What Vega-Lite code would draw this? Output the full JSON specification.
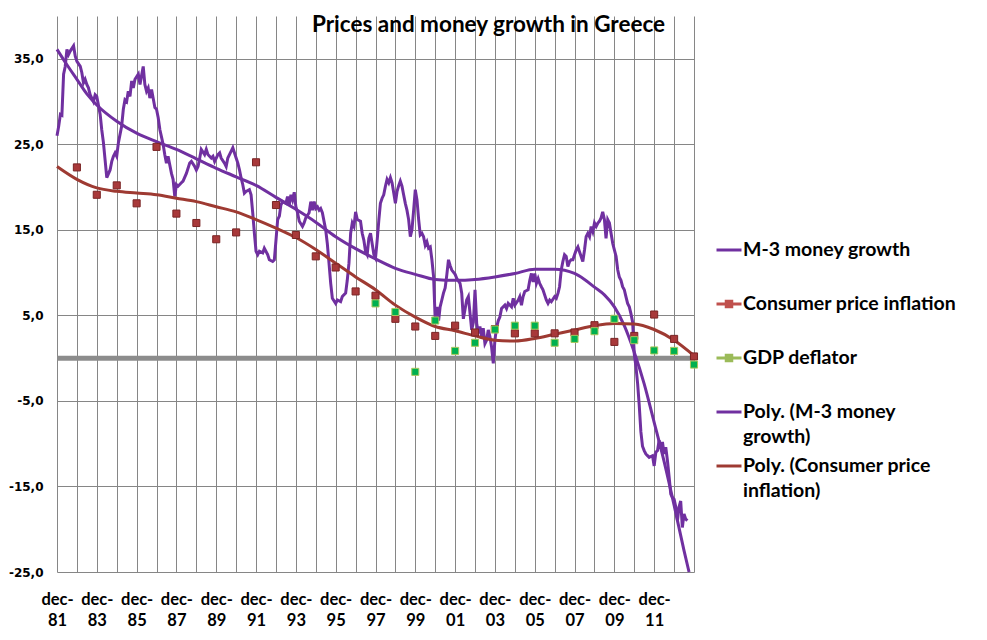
{
  "$schema": "https://vega.github.io/schema/vega-lite/v6.json",
  "width": 637,
  "height": 556,
  "autosize": "none",
  "padding": {"left": 57, "top": 16, "right": 293, "bottom": 68},
  "background": "white",
  "config": {"view": {"stroke": null}, "font": "Lato"},
  "title": {
    "text": "Prices and money growth in Greece",
    "font": "Lato", "fontSize": 22.5, "fontWeight": "bold", "color": "black",
    "anchor": "middle", "frame": "group", "baseline": "alphabetic",
    "offset": 0, "dx": 113, "dy": 38
  },
  "datasets": {
    "m3": [
      {"date":"1981-12","value":26.0},{"date":"1982-01","value":27.1},{"date":"1982-02","value":28.5},{"date":"1982-03","value":28.4},
      {"date":"1982-04","value":33.2},{"date":"1982-05","value":34.1},{"date":"1982-06","value":36.1},{"date":"1982-07","value":35.5},
      {"date":"1982-08","value":35.9},{"date":"1982-10","value":36.5},{"date":"1982-11","value":35.3},{"date":"1982-12","value":34.7},
      {"date":"1983-02","value":34.1},{"date":"1983-03","value":33.4},{"date":"1983-04","value":32.2},{"date":"1983-05","value":32.6},
      {"date":"1983-06","value":32.0},{"date":"1983-07","value":31.6},{"date":"1983-08","value":30.8},{"date":"1983-10","value":30.0},
      {"date":"1983-11","value":30.8},{"date":"1983-12","value":30.6},{"date":"1984-02","value":28.5},{"date":"1984-03","value":26.7},
      {"date":"1984-04","value":25.2},{"date":"1984-05","value":23.2},{"date":"1984-06","value":21.1},{"date":"1984-08","value":22.0},
      {"date":"1984-09","value":23.0},{"date":"1984-10","value":23.6},{"date":"1984-11","value":24.0},{"date":"1984-12","value":23.6},
      {"date":"1985-01","value":25.2},{"date":"1985-03","value":27.1},{"date":"1985-04","value":29.1},{"date":"1985-05","value":30.2},
      {"date":"1985-06","value":30.0},{"date":"1985-07","value":31.2},{"date":"1985-08","value":30.6},{"date":"1985-09","value":32.4},
      {"date":"1985-10","value":31.6},{"date":"1985-11","value":32.6},{"date":"1986-01","value":33.2},{"date":"1986-02","value":32.0},
      {"date":"1986-03","value":33.0},{"date":"1986-04","value":34.1},{"date":"1986-05","value":32.0},{"date":"1986-06","value":31.2},
      {"date":"1986-07","value":31.6},{"date":"1986-08","value":30.4},{"date":"1986-09","value":31.4},{"date":"1986-11","value":29.3},
      {"date":"1986-12","value":29.1},{"date":"1987-01","value":28.1},{"date":"1987-02","value":26.7},{"date":"1987-03","value":25.9},
      {"date":"1987-04","value":25.0},{"date":"1987-05","value":23.8},{"date":"1987-06","value":22.8},{"date":"1987-07","value":23.6},
      {"date":"1987-09","value":21.6},{"date":"1987-10","value":20.9},{"date":"1987-11","value":18.9},{"date":"1987-12","value":20.3},
      {"date":"1988-01","value":20.1},{"date":"1988-03","value":20.5},{"date":"1988-04","value":20.7},{"date":"1988-06","value":21.6},
      {"date":"1988-08","value":22.8},{"date":"1988-09","value":23.0},{"date":"1988-11","value":22.4},{"date":"1988-12","value":22.0},
      {"date":"1989-01","value":22.4},{"date":"1989-02","value":23.4},{"date":"1989-03","value":24.4},{"date":"1989-05","value":23.8},
      {"date":"1989-06","value":24.4},{"date":"1989-07","value":23.8},{"date":"1989-09","value":23.4},{"date":"1989-10","value":23.6},
      {"date":"1989-11","value":23.0},{"date":"1990-01","value":23.8},{"date":"1990-02","value":24.0},{"date":"1990-03","value":23.4},
      {"date":"1990-05","value":22.8},{"date":"1990-06","value":22.4},{"date":"1990-07","value":23.4},{"date":"1990-09","value":24.2},
      {"date":"1990-10","value":24.6},{"date":"1990-12","value":23.4},{"date":"1991-01","value":22.8},{"date":"1991-02","value":22.0},
      {"date":"1991-03","value":21.1},{"date":"1991-04","value":20.3},{"date":"1991-05","value":19.3},{"date":"1991-06","value":19.5},
      {"date":"1991-08","value":19.7},{"date":"1991-09","value":19.1},{"date":"1991-10","value":17.0},{"date":"1991-11","value":14.6},
      {"date":"1991-12","value":12.5},{"date":"1992-01","value":12.1},{"date":"1992-02","value":12.5},{"date":"1992-04","value":12.3},
      {"date":"1992-05","value":12.85},{"date":"1992-07","value":12.1},{"date":"1992-08","value":11.5},{"date":"1992-10","value":11.3},
      {"date":"1992-11","value":11.5},{"date":"1992-12","value":13.8},{"date":"1993-01","value":16.2},{"date":"1993-02","value":16.6},
      {"date":"1993-03","value":17.9},{"date":"1993-04","value":18.3},{"date":"1993-06","value":18.1},{"date":"1993-07","value":18.9},
      {"date":"1993-08","value":17.9},{"date":"1993-09","value":19.1},{"date":"1993-10","value":18.5},{"date":"1993-11","value":19.4},
      {"date":"1993-12","value":17.7},{"date":"1994-01","value":17.0},{"date":"1994-02","value":16.0},{"date":"1994-04","value":15.4},
      {"date":"1994-05","value":15.8},{"date":"1994-06","value":16.4},{"date":"1994-08","value":17.0},{"date":"1994-09","value":18.3},
      {"date":"1994-10","value":17.3},{"date":"1994-11","value":18.3},{"date":"1994-12","value":17.5},{"date":"1995-01","value":17.7},
      {"date":"1995-02","value":17.3},{"date":"1995-03","value":17.5},{"date":"1995-04","value":17.0},{"date":"1995-06","value":15.0},
      {"date":"1995-07","value":13.4},{"date":"1995-08","value":11.1},{"date":"1995-09","value":8.75},{"date":"1995-10","value":7.0},
      {"date":"1995-12","value":6.4},{"date":"1996-01","value":6.8},{"date":"1996-03","value":6.6},{"date":"1996-04","value":7.2},
      {"date":"1996-06","value":7.6},{"date":"1996-07","value":9.1},{"date":"1996-08","value":11.1},{"date":"1996-09","value":14.6},
      {"date":"1996-10","value":15.8},{"date":"1996-11","value":15.4},{"date":"1996-12","value":17.1},{"date":"1997-01","value":16.2},
      {"date":"1997-03","value":16.0},{"date":"1997-04","value":14.6},{"date":"1997-05","value":13.8},{"date":"1997-06","value":12.5},
      {"date":"1997-07","value":12.1},{"date":"1997-08","value":14.0},{"date":"1997-09","value":14.6},{"date":"1997-11","value":12.1},
      {"date":"1997-12","value":11.7},{"date":"1998-01","value":13.8},{"date":"1998-02","value":16.2},{"date":"1998-03","value":18.1},
      {"date":"1998-04","value":18.7},{"date":"1998-05","value":19.1},{"date":"1998-06","value":20.1},{"date":"1998-07","value":20.9},
      {"date":"1998-08","value":20.5},{"date":"1998-09","value":21.1},{"date":"1998-10","value":20.5},{"date":"1998-11","value":19.3},
      {"date":"1998-12","value":18.1},{"date":"1999-01","value":19.5},{"date":"1999-02","value":20.2},{"date":"1999-03","value":20.7},
      {"date":"1999-04","value":20.1},{"date":"1999-05","value":19.1},{"date":"1999-06","value":18.1},{"date":"1999-07","value":17.3},
      {"date":"1999-08","value":16.2},{"date":"1999-09","value":14.2},{"date":"1999-10","value":15.0},{"date":"1999-11","value":17.3},
      {"date":"1999-12","value":19.7},{"date":"2000-01","value":18.5},{"date":"2000-02","value":16.2},{"date":"2000-03","value":14.4},
      {"date":"2000-04","value":14.6},{"date":"2000-05","value":14.2},{"date":"2000-06","value":13.2},{"date":"2000-07","value":13.6},
      {"date":"2000-08","value":12.85},{"date":"2000-09","value":13.0},{"date":"2000-10","value":11.5},{"date":"2000-11","value":9.5},
      {"date":"2000-12","value":4.4},{"date":"2001-01","value":6.0},{"date":"2001-02","value":4.4},{"date":"2001-03","value":6.0},
      {"date":"2001-04","value":6.8},{"date":"2001-05","value":7.6},{"date":"2001-06","value":8.2},{"date":"2001-07","value":9.7},
      {"date":"2001-08","value":11.5},{"date":"2001-09","value":10.8},{"date":"2001-10","value":10.3},{"date":"2001-12","value":9.8},
      {"date":"2002-01","value":9.3},{"date":"2002-03","value":8.75},{"date":"2002-04","value":7.6},{"date":"2002-05","value":4.6},
      {"date":"2002-07","value":6.8},{"date":"2002-08","value":7.2},{"date":"2002-09","value":5.2},{"date":"2002-10","value":3.3},
      {"date":"2002-11","value":4.2},{"date":"2002-12","value":8.0},{"date":"2003-01","value":4.05},{"date":"2003-02","value":2.9},
      {"date":"2003-03","value":3.7},{"date":"2003-04","value":2.5},{"date":"2003-05","value":3.5},{"date":"2003-06","value":1.7},
      {"date":"2003-07","value":2.1},{"date":"2003-08","value":3.3},{"date":"2003-09","value":2.5},{"date":"2003-10","value":1.3},
      {"date":"2003-11","value":-0.6},{"date":"2003-12","value":2.1},{"date":"2004-01","value":3.6},{"date":"2004-02","value":4.4},
      {"date":"2004-03","value":4.8},{"date":"2004-04","value":5.8},{"date":"2004-06","value":6.2},{"date":"2004-07","value":5.8},
      {"date":"2004-08","value":6.4},{"date":"2004-10","value":6.0},{"date":"2004-11","value":7.0},{"date":"2004-12","value":6.2},
      {"date":"2005-02","value":6.8},{"date":"2005-03","value":7.2},{"date":"2005-04","value":6.2},{"date":"2005-05","value":7.2},
      {"date":"2005-06","value":7.8},{"date":"2005-08","value":8.0},{"date":"2005-09","value":9.1},{"date":"2005-10","value":9.9},
      {"date":"2005-11","value":8.9},{"date":"2005-12","value":9.9},{"date":"2006-01","value":8.75},{"date":"2006-02","value":9.3},
      {"date":"2006-03","value":8.75},{"date":"2006-04","value":8.35},{"date":"2006-05","value":8.0},{"date":"2006-07","value":6.8},
      {"date":"2006-08","value":6.4},{"date":"2006-09","value":6.8},{"date":"2006-10","value":6.6},{"date":"2006-12","value":7.2},
      {"date":"2007-01","value":7.0},{"date":"2007-02","value":7.6},{"date":"2007-03","value":8.35},{"date":"2007-04","value":10.3},
      {"date":"2007-05","value":11.3},{"date":"2007-06","value":12.1},{"date":"2007-07","value":11.9},{"date":"2007-08","value":10.7},
      {"date":"2007-09","value":11.3},{"date":"2007-10","value":11.5},{"date":"2007-11","value":11.5},{"date":"2007-12","value":12.1},
      {"date":"2008-01","value":12.65},{"date":"2008-02","value":13.0},{"date":"2008-03","value":12.45},{"date":"2008-05","value":11.3},
      {"date":"2008-06","value":12.65},{"date":"2008-07","value":14.2},{"date":"2008-08","value":14.6},{"date":"2008-09","value":14.2},
      {"date":"2008-10","value":15.4},{"date":"2008-11","value":14.8},{"date":"2008-12","value":15.8},{"date":"2009-01","value":15.4},
      {"date":"2009-02","value":15.8},{"date":"2009-03","value":16.0},{"date":"2009-04","value":16.4},{"date":"2009-05","value":17.1},
      {"date":"2009-06","value":16.2},{"date":"2009-07","value":14.0},{"date":"2009-08","value":16.2},{"date":"2009-09","value":15.8},
      {"date":"2009-10","value":14.6},{"date":"2009-11","value":13.4},{"date":"2009-12","value":12.65},{"date":"2010-01","value":11.9},
      {"date":"2010-02","value":10.3},{"date":"2010-03","value":9.5},{"date":"2010-04","value":9.1},{"date":"2010-05","value":8.35},
      {"date":"2010-06","value":8.0},{"date":"2010-07","value":7.2},{"date":"2010-08","value":6.4},{"date":"2010-09","value":6.0},
      {"date":"2010-10","value":5.2},{"date":"2010-11","value":4.2},{"date":"2010-12","value":0.5},{"date":"2011-01","value":-1.0},
      {"date":"2011-02","value":-3.0},{"date":"2011-03","value":-5.4},{"date":"2011-04","value":-8.6},{"date":"2011-05","value":-10.3},
      {"date":"2011-06","value":-10.8},{"date":"2011-07","value":-11.2},{"date":"2011-08","value":-11.4},{"date":"2011-09","value":-11.6},
      {"date":"2011-10","value":-11.5},{"date":"2011-11","value":-11.4},{"date":"2011-12","value":-12.6},{"date":"2012-01","value":-11.0},
      {"date":"2012-02","value":-10.8},{"date":"2012-03","value":-9.6},{"date":"2012-04","value":-10.6},{"date":"2012-05","value":-9.8},
      {"date":"2012-06","value":-11.2},{"date":"2012-07","value":-10.4},{"date":"2012-08","value":-12.0},{"date":"2012-09","value":-13.9},
      {"date":"2012-10","value":-15.9},{"date":"2012-11","value":-16.3},{"date":"2012-12","value":-16.5},{"date":"2013-01","value":-17.4},
      {"date":"2013-02","value":-19.0},{"date":"2013-03","value":-17.4},{"date":"2013-04","value":-16.7},{"date":"2013-05","value":-19.8},
      {"date":"2013-06","value":-18.2},{"date":"2013-07","value":-18.8},{"date":"2013-08","value":-19.0}
    ],
    "m3trend": [
      {"date":"1981-12","value":36.1},{"date":"1982-06","value":34.3},{"date":"1982-12","value":32.6},{"date":"1983-06","value":30.9},
      {"date":"1983-12","value":29.6},{"date":"1984-12","value":27.7},{"date":"1985-12","value":26.3},{"date":"1986-12","value":25.3},
      {"date":"1987-12","value":24.4},{"date":"1988-12","value":23.3},{"date":"1989-12","value":22.2},{"date":"1990-12","value":21.2},
      {"date":"1991-12","value":20.2},{"date":"1992-12","value":18.8},{"date":"1993-12","value":17.4},{"date":"1994-12","value":15.9},
      {"date":"1995-12","value":14.2},{"date":"1996-12","value":12.8},{"date":"1997-12","value":11.6},{"date":"1998-12","value":10.5},
      {"date":"1999-12","value":9.8},{"date":"2000-12","value":9.2},{"date":"2001-12","value":9.1},{"date":"2002-12","value":9.2},
      {"date":"2003-12","value":9.5},{"date":"2004-12","value":9.9},{"date":"2005-12","value":10.4},{"date":"2006-12","value":10.4},
      {"date":"2007-12","value":9.9},{"date":"2008-06","value":9.2},{"date":"2008-12","value":8.3},{"date":"2009-06","value":7.4},
      {"date":"2009-12","value":6.0},{"date":"2010-06","value":3.8},{"date":"2010-12","value":0.7},{"date":"2011-06","value":-3.0},
      {"date":"2011-12","value":-7.5},{"date":"2012-06","value":-12.1},{"date":"2012-12","value":-17.2},{"date":"2013-06","value":-22.5},
      {"date":"2013-09","value":-25.0}
    ],
    "cpitrend": [
      {"date":"1981-12","value":22.4},{"date":"1982-12","value":20.9},{"date":"1983-12","value":19.9},{"date":"1984-12","value":19.5},
      {"date":"1985-12","value":19.3},{"date":"1986-12","value":19.1},{"date":"1987-12","value":18.7},{"date":"1988-12","value":18.3},
      {"date":"1989-12","value":17.7},{"date":"1990-12","value":17.1},{"date":"1991-12","value":16.2},{"date":"1992-12","value":15.2},
      {"date":"1993-12","value":14.1},{"date":"1994-12","value":12.7},{"date":"1995-12","value":11.1},{"date":"1996-12","value":9.5},
      {"date":"1997-12","value":8.0},{"date":"1998-12","value":6.2},{"date":"1999-12","value":4.8},{"date":"2000-12","value":3.7},
      {"date":"2001-12","value":3.2},{"date":"2002-12","value":2.6},{"date":"2003-12","value":2.1},{"date":"2004-12","value":2.0},
      {"date":"2005-12","value":2.3},{"date":"2006-12","value":2.8},{"date":"2007-12","value":3.3},{"date":"2008-12","value":3.8},
      {"date":"2009-12","value":4.05},{"date":"2010-12","value":4.0},{"date":"2011-12","value":3.35},{"date":"2012-12","value":2.1},
      {"date":"2013-12","value":0.3}
    ],
    "cpi": [
      {"date":"1982-12","value":22.3},{"date":"1983-12","value":19.1},{"date":"1984-12","value":20.2},{"date":"1985-12","value":18.1},
      {"date":"1986-12","value":24.7},{"date":"1987-12","value":16.9},{"date":"1988-12","value":15.8},{"date":"1989-12","value":13.9},
      {"date":"1990-12","value":14.7},{"date":"1991-12","value":22.9},{"date":"1992-12","value":17.9},{"date":"1993-12","value":14.4},
      {"date":"1994-12","value":11.9},{"date":"1995-12","value":10.6},{"date":"1996-12","value":7.8},{"date":"1997-12","value":7.3},
      {"date":"1998-12","value":4.6},{"date":"1999-12","value":3.7},{"date":"2000-12","value":2.6},{"date":"2001-12","value":3.8},
      {"date":"2002-12","value":3.0},{"date":"2003-12","value":3.4},{"date":"2004-12","value":2.9},{"date":"2005-12","value":2.9},
      {"date":"2006-12","value":2.9},{"date":"2007-12","value":3.0},{"date":"2008-12","value":3.85},{"date":"2009-12","value":1.9},
      {"date":"2010-12","value":2.6},{"date":"2011-12","value":5.1},{"date":"2012-12","value":2.25},{"date":"2013-12","value":0.2}
    ],
    "gdp": [
      {"date":"1997-12","value":6.4},{"date":"1998-12","value":5.4},{"date":"1999-12","value":-1.6},{"date":"2000-12","value":4.4},
      {"date":"2001-12","value":0.85},{"date":"2002-12","value":1.8},{"date":"2003-12","value":3.35},{"date":"2004-12","value":3.8},
      {"date":"2005-12","value":3.8},{"date":"2006-12","value":1.8},{"date":"2007-12","value":2.25},{"date":"2008-12","value":3.15},
      {"date":"2009-12","value":4.6},{"date":"2010-12","value":2.1},{"date":"2011-12","value":0.9},{"date":"2012-12","value":0.85},
      {"date":"2013-12","value":-0.75}
    ]
  },
  "layer": [
    {
      "data": {"values": [{}]},
      "mark": {"type": "rule", "color": "#8C8C8C", "strokeWidth": 5},
      "encoding": {"y": {"datum": 0, "type": "quantitative"}}
    },
    {
      "data": {"name": "m3"},
      "mark": {"type": "line", "strokeWidth": 3},
      "encoding": {
        "x": {
          "field": "date", "type": "temporal", "title": null,
          "scale": {"type": "utc", "domain": [{"year": 1981, "month": 12, "date": 1, "utc": true}, {"year": 2013, "month": 12, "date": 1, "utc": true}]},
          "axis": {
            "values": [
              {"year":1981,"month":12,"date":1,"utc":true},{"year":1982,"month":12,"date":1,"utc":true},{"year":1983,"month":12,"date":1,"utc":true},
              {"year":1984,"month":12,"date":1,"utc":true},{"year":1985,"month":12,"date":1,"utc":true},{"year":1986,"month":12,"date":1,"utc":true},
              {"year":1987,"month":12,"date":1,"utc":true},{"year":1988,"month":12,"date":1,"utc":true},{"year":1989,"month":12,"date":1,"utc":true},
              {"year":1990,"month":12,"date":1,"utc":true},{"year":1991,"month":12,"date":1,"utc":true},{"year":1992,"month":12,"date":1,"utc":true},
              {"year":1993,"month":12,"date":1,"utc":true},{"year":1994,"month":12,"date":1,"utc":true},{"year":1995,"month":12,"date":1,"utc":true},
              {"year":1996,"month":12,"date":1,"utc":true},{"year":1997,"month":12,"date":1,"utc":true},{"year":1998,"month":12,"date":1,"utc":true},
              {"year":1999,"month":12,"date":1,"utc":true},{"year":2000,"month":12,"date":1,"utc":true},{"year":2001,"month":12,"date":1,"utc":true},
              {"year":2002,"month":12,"date":1,"utc":true},{"year":2003,"month":12,"date":1,"utc":true},{"year":2004,"month":12,"date":1,"utc":true},
              {"year":2005,"month":12,"date":1,"utc":true},{"year":2006,"month":12,"date":1,"utc":true},{"year":2007,"month":12,"date":1,"utc":true},
              {"year":2008,"month":12,"date":1,"utc":true},{"year":2009,"month":12,"date":1,"utc":true},{"year":2010,"month":12,"date":1,"utc":true},
              {"year":2011,"month":12,"date":1,"utc":true},{"year":2012,"month":12,"date":1,"utc":true},{"year":2013,"month":12,"date":1,"utc":true}
            ],
            "tickCount": 60,
            "grid": true, "gridColor": "#868686", "gridWidth": 1,
            "domain": false, "ticks": false, "tickSize": 0,
            "labelExpr": "utcyear(datum.value) % 2 == 1 && utcyear(datum.value) < 2013 ? ['dec-', utcFormat(datum.value, '%y')] : ''",
            "labelFont": "Lato", "labelFontSize": 16.5, "labelFontWeight": "bold", "labelColor": "black",
            "labelPadding": 19, "labelLineHeight": 21.5, "labelOverlap": false, "labelFlush": false, "labelBound": false
          }
        },
        "y": {
          "field": "value", "type": "quantitative", "title": null,
          "scale": {"domain": [-25, 40], "nice": false, "zero": false},
          "axis": {
            "values": [-25, -15, -5, 5, 15, 25, 35],
            "grid": true, "gridColor": "#868686", "gridWidth": 1,
            "domain": false, "ticks": false, "tickSize": 0,
            "labelExpr": "(datum.value < 0 ? '-' : '') + replace(format(abs(datum.value), '.1f'), '.', ',')",
            "labelFont": "DejaVu Sans", "labelFontSize": 12, "labelFontWeight": "bold", "labelColor": "black",
            "labelPadding": 14
          }
        },
        "color": {
          "datum": "M-3 money growth", "type": "nominal",
          "scale": {
            "domain": ["M-3 money growth", "Consumer price inflation", "GDP deflator", "Poly. (M-3 money growth)", "Poly. (Consumer price inflation)"],
            "range": ["#7030A0", "#C0504D", "#9BBB59", "#7030A0", "#9E3A32"]
          },
          "legend": {
            "title": null, "orient": "none", "legendX": 658, "legendY": 220, "padding": 0,
            "labelFont": "Lato", "labelFontSize": 19.5, "labelFontWeight": "bold", "labelColor": "black",
            "labelLimit": 320, "labelOffset": 0, "rowPadding": 5,
            "symbolSize": 625, "symbolStrokeWidth": 3,
            "labelExpr": "datum.label == 'Poly. (M-3 money growth)' ? ['Poly. (M-3 money', 'growth)'] : datum.label == 'Poly. (Consumer price inflation)' ? ['Poly. (Consumer price', 'inflation)'] : [datum.label, ' ']",
            "encode": {
              "labels": {"update": {"lineHeight": {"value": 25}}},
              "symbols": {"update": {
                "shape": {"signal": "datum.value == 'Consumer price inflation' || datum.value == 'GDP deflator' ? 'M-1,0H1M-0.22,-0.22H0.22V0.22H-0.22Z' : 'M-1,0H1'"},
                "fill": {"signal": "datum.value == 'Consumer price inflation' ? '#A8393A' : datum.value == 'GDP deflator' ? '#00B050' : 'transparent'"},
                "strokeWidth": {"value": 3}
              }}
            }
          }
        }
      }
    },
    {
      "data": {"name": "m3trend"},
      "mark": {"type": "line", "strokeWidth": 3, "interpolate": "monotone"},
      "encoding": {
        "x": {"field": "date", "type": "temporal", "title": null},
        "y": {"field": "value", "type": "quantitative", "title": null},
        "color": {"datum": "Poly. (M-3 money growth)", "type": "nominal"}
      }
    },
    {
      "data": {"name": "cpitrend"},
      "mark": {"type": "line", "strokeWidth": 3, "interpolate": "monotone"},
      "encoding": {
        "x": {"field": "date", "type": "temporal", "title": null},
        "y": {"field": "value", "type": "quantitative", "title": null},
        "color": {"datum": "Poly. (Consumer price inflation)", "type": "nominal"}
      }
    },
    {
      "data": {"name": "cpi"},
      "mark": {"type": "square", "size": 50, "fill": "#A8393A", "stroke": "#7A2424", "strokeWidth": 1, "opacity": 1},
      "encoding": {
        "x": {"field": "date", "type": "temporal", "title": null},
        "y": {"field": "value", "type": "quantitative", "title": null}
      }
    },
    {
      "data": {"name": "gdp"},
      "mark": {"type": "square", "size": 50, "fill": "#00B050", "stroke": "#A9C75A", "strokeWidth": 1, "opacity": 1},
      "encoding": {
        "x": {"field": "date", "type": "temporal", "title": null},
        "y": {"field": "value", "type": "quantitative", "title": null}
      }
    }
  ]
}
